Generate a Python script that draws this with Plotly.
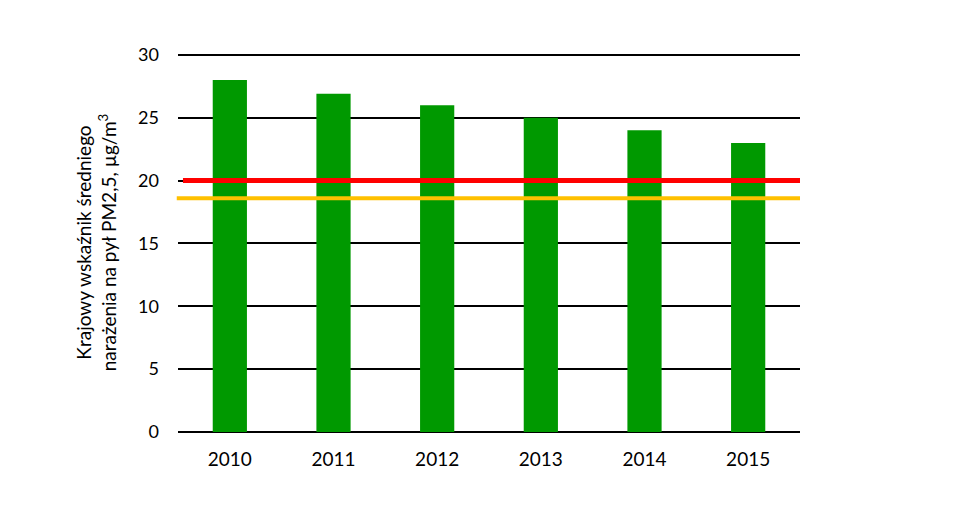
import plotly.graph_objects as go

years = ["2010", "2011", "2012", "2013", "2014", "2015"]
values = [28.0, 26.9, 26.0, 25.0, 24.0, 23.0]
limit_red = 20.0
limit_yellow = 18.6
y_ticks = [0, 5, 10, 15, 20, 25, 30]

fig = go.Figure()
fig.add_trace(go.Bar(x=years, y=values, marker=dict(color="#009900", line=dict(width=0)),
                     showlegend=False, hoverinfo="x+y"))

fig.add_shape(type="line", xref="paper", yref="y", x0=-0.002, x1=1, y0=limit_yellow, y1=limit_yellow,
              line=dict(color="#FFC000", width=4), layer="above")
fig.add_shape(type="line", xref="paper", yref="y", x0=0.008, x1=1, y0=limit_red, y1=limit_red,
              line=dict(color="#FF0000", width=5), layer="above")

fig.update_layout(
    width=957, height=513,
    margin=dict(l=178, r=157, t=53, b=81),
    plot_bgcolor="white", paper_bgcolor="white",
    bargap=0.67,
    font=dict(family="Lato, Open Sans, sans-serif", size=18, color="#000000"),
    xaxis=dict(showgrid=False, showline=False, ticks="", tickfont=dict(size=19),
               ticklabelstandoff=14),
    yaxis=dict(range=[0, 30.15], tickvals=y_ticks, showgrid=True, gridcolor="#000000", gridwidth=2,
               zeroline=True, zerolinecolor="#000000", zerolinewidth=2, showline=False, ticks="",
               tickfont=dict(size=18), ticklabelstandoff=18,
               title=dict(text="Krajowy wskaźnik średniego<br>narażenia na pył PM2,5, µg/m<sup>3</sup>",
                          font=dict(size=19), standoff=16)),
)

fig.write_html("out.html")
